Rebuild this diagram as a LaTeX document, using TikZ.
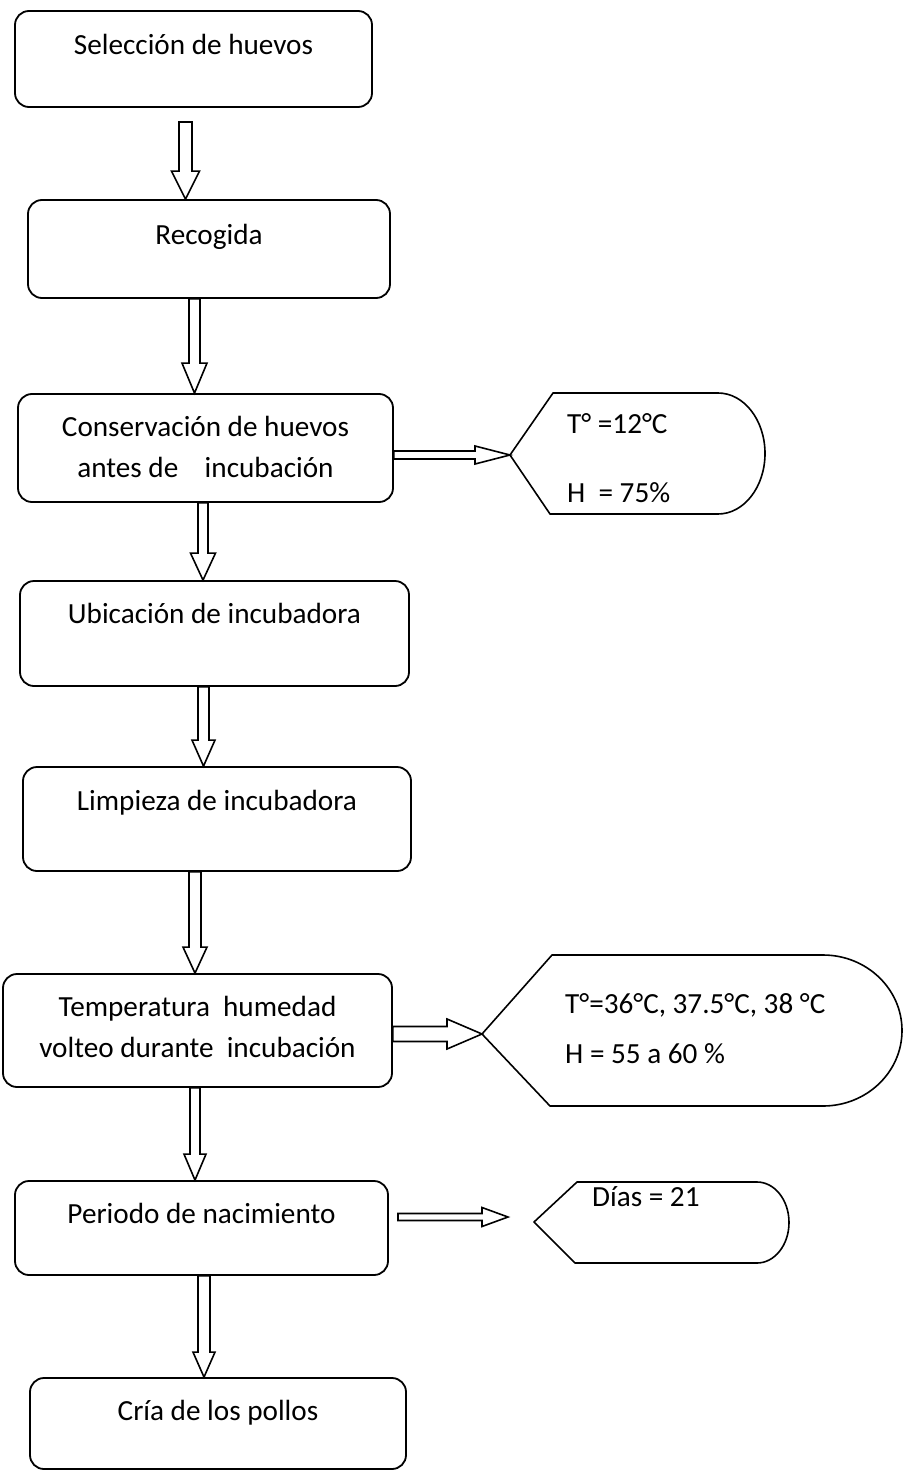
\documentclass[tikz,border=0pt]{standalone}
\usepackage{fontspec}
\setmainfont{Carlito}
\usetikzlibrary{calc}
\tikzset{
  box/.style={draw, line width=1.8pt, rounded corners=14pt, inner sep=0pt},
  txt/.style={font=\fontsize{29.2}{41}\selectfont, inner sep=0pt, align=center},
  disp/.style={draw, line width=1.6pt, line join=round},
  dtxt/.style={font=\fontsize{29.2}{35}\selectfont, inner sep=0pt, align=left, anchor=base west},
  darrow/.style n args={3}{draw, line width=1.6pt, to path={
    let \p1=(\tikztostart), \p2=(\tikztotarget) in
    (\x1-#1,\y1) -- (\x1-#1,\y2+#3) -- (\x1-#2,\y2+#3) -- (\x1,\y2)
    -- (\x1+#2,\y2+#3) -- (\x1+#1,\y2+#3) -- (\x1+#1,\y1) -- cycle}},
  rarrow/.style n args={3}{draw, line width=1.6pt, to path={
    let \p1=(\tikztostart), \p2=(\tikztotarget) in
    (\x1,\y1+#1) -- (\x2-#3,\y1+#1) -- (\x2-#3,\y1+#2) -- (\x2,\y1)
    -- (\x2-#3,\y1-#2) -- (\x2-#3,\y1-#1) -- (\x1,\y1-#1) -- cycle}}
}
\begin{document}
\begin{tikzpicture}[x=1pt,y=-1pt]
\path[use as bounding box, fill=white] (0,0) rectangle (920,1471);

% process boxes
\node[box, minimum width=357pt, minimum height=96pt]  (b1) at (193.5,59) {};
\node[box, minimum width=362pt, minimum height=98pt]  (b2) at (209,249) {};
\node[box, minimum width=375pt, minimum height=108pt] (b3) at (205.5,448) {};
\node[box, minimum width=389pt, minimum height=105pt] (b4) at (214.5,633.5) {};
\node[box, minimum width=388pt, minimum height=104pt] (b5) at (217,819) {};
\node[box, minimum width=389pt, minimum height=113pt] (b6) at (197.5,1030.5) {};
\node[box, minimum width=373pt, minimum height=94pt]  (b7) at (201.5,1228) {};
\node[box, minimum width=376pt, minimum height=91pt]  (b8) at (218,1423.5) {};

% box texts (base = baseline of the last line)
\node[txt, anchor=base] (t1) at ([yshift=-44pt]b1.north) {Selección de huevos};
\node[txt, anchor=base] (t2) at ([yshift=-45pt]b2.north) {Recogida};
\node[txt, anchor=base] (t3) at ([yshift=-84pt]b3.north) {Conservación de huevos\\antes de\ \ \ \ incubación};
\node[txt, anchor=base] (t4) at ([yshift=-43pt]b4.north) {Ubicación de incubadora};
\node[txt, anchor=base] (t5) at ([yshift=-44pt]b5.north) {Limpieza de incubadora};
\node[txt, anchor=base] (t6) at ([yshift=-84pt]b6.north) {Temperatura\ \ humedad\\volteo durante\ \ incubación};
\node[txt, anchor=base] (t7) at ([yshift=-43pt]b7.north) {Periodo de nacimiento};
\node[txt, anchor=base] (t8) at ([yshift=-43pt]b8.north) {Cría de los pollos};

% display shapes
\coordinate (d1tip) at (510,455);
\draw[disp] (d1tip) -- (553,393) -- (718,393)
  arc[start angle=90, end angle=-90, x radius=47pt, y radius=60.5pt] -- (550,514) -- cycle;
\node[dtxt, font=\fontsize{29.2}{69}\selectfont] (d1t) at (567,502) {T° =12°C\\H\ \ = 75\%};

\coordinate (d2tip) at (482,1034);
\draw[disp] (d2tip) -- (552,955) -- (823,955)
  arc[start angle=90, end angle=-90, x radius=79pt, y radius=75.5pt] -- (550,1106) -- cycle;
\node[dtxt, font=\fontsize{29.2}{50}\selectfont] (d2t) at (565,1063) {T°=36°C, 37.5°C, 38 °C\\H = 55 a 60 \%};

\coordinate (d3tip) at (534,1222);
\draw[disp] (d3tip) -- (577,1182) -- (757,1182)
  arc[start angle=90, end angle=-90, x radius=32pt, y radius=40.5pt] -- (575,1263) -- cycle;
\node[dtxt] (d3t) at (592,1206) {Días = 21};

% vertical block arrows
\coordinate (a1s) at (185.5,122);
\coordinate (c2) at (194.5,0);
\coordinate (c3) at (203,0);
\coordinate (c4) at (203.5,0);
\coordinate (c5) at (195,0);
\coordinate (c6) at (195,0);
\coordinate (c7) at (204,0);
\draw[darrow={6.5pt}{14pt}{28pt}]   (a1s) to (b2.north -| a1s);
\draw[darrow={5.5pt}{12.5pt}{30pt}] (b2.south -| c2) to (b3.north -| c2);
\draw[darrow={5pt}{12.5pt}{27pt}]   (b3.south -| c3) to (b4.north -| c3);
\draw[darrow={5.5pt}{11.5pt}{26pt}] (b4.south -| c4) to (b5.north -| c4);
\draw[darrow={6pt}{12pt}{26pt}]     (b5.south -| c5) to (b6.north -| c5);
\draw[darrow={5pt}{11pt}{26pt}]     (b6.south -| c6) to (b7.north -| c6);
\draw[darrow={6pt}{11pt}{25pt}]     (b7.south -| c7) to (b8.north -| c7);

% horizontal block arrows
\draw[rarrow={4pt}{9pt}{35pt}]    (b3.east |- d1tip) to (d1tip);
\draw[rarrow={7.5pt}{15pt}{35pt}] (b6.east |- d2tip) to (d2tip);
\coordinate (a8s) at (398,1217);
\coordinate (a8e) at (508,1217);
\draw[rarrow={3.5pt}{9.5pt}{26pt}] (a8s) to (a8e);
\end{tikzpicture}
\end{document}
